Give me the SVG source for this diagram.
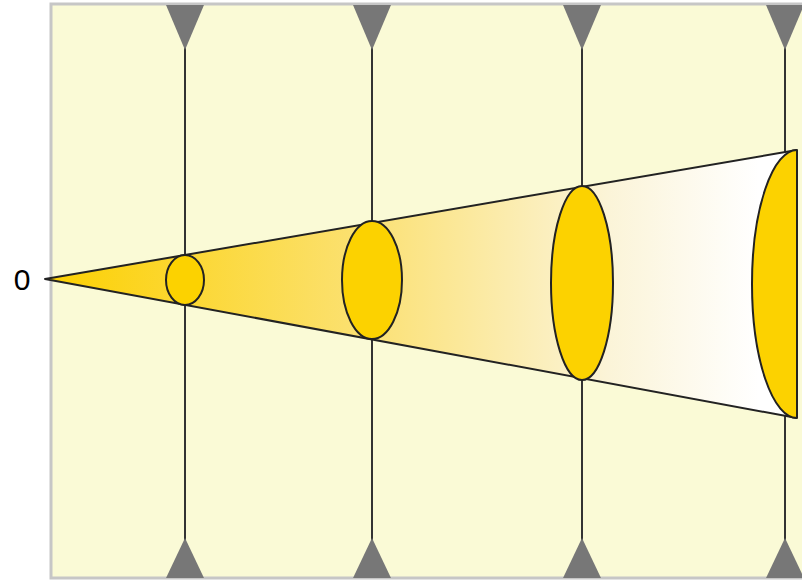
<svg xmlns="http://www.w3.org/2000/svg" width="802" height="582" viewBox="0 0 802 582">
<defs>
<linearGradient id="cone" gradientUnits="userSpaceOnUse" x1="45" y1="0" x2="797" y2="0">
<stop offset="0" stop-color="#fcd000"/>
<stop offset="0.45" stop-color="#fbe27a"/>
<stop offset="0.75" stop-color="#fbf4d8"/>
<stop offset="0.95" stop-color="#ffffff"/>
</linearGradient>
<clipPath id="endclip"><rect x="700" y="100" width="97" height="400"/></clipPath>
<style>
.bg{fill:#fafad6;stroke:#c6c6c6;stroke-width:3}
.vl{stroke:#333;stroke-width:2;fill:none}
.tri{fill:#777}
.ell{fill:#fcd200;stroke:#222;stroke-width:2}
.lbl{font-family:"Liberation Sans",Arial,sans-serif;font-size:30px;fill:#000}
</style>
</defs>
<rect class="bg" x="51" y="4" width="760" height="574"/>
<g id="connectors">
<line class="vl" x1="185" y1="40" x2="185" y2="550"/>
<line class="vl" x1="372" y1="40" x2="372" y2="550"/>
<line class="vl" x1="582" y1="40" x2="582" y2="550"/>
<line class="vl" x1="785" y1="40" x2="785" y2="550"/>
</g>
<g id="markers">
<polygon class="tri" points="166,5 204,5 185,50"/>
<polygon class="tri" points="353,5 391,5 372,50"/>
<polygon class="tri" points="563,5 601,5 582,50"/>
<polygon class="tri" points="766,5 804,5 785,50"/>
<polygon class="tri" points="166,578 204,578 185,538"/>
<polygon class="tri" points="353,578 391,578 372,538"/>
<polygon class="tri" points="563,578 601,578 582,538"/>
<polygon class="tri" points="766,578 804,578 785,538"/>
</g>
<g id="cone">
<polygon points="45,279 797,150 797,418" fill="url(#cone)" stroke="#222" stroke-width="2" stroke-linejoin="round"/>
</g>
<g id="section1"><ellipse class="ell" cx="185" cy="280" rx="19" ry="25"/></g>
<g id="section2"><ellipse class="ell" cx="372" cy="280" rx="30" ry="59"/></g>
<g id="section3"><ellipse class="ell" cx="582" cy="283" rx="31" ry="97"/></g>
<g id="section4"><ellipse class="ell" cx="797" cy="284" rx="45" ry="134" clip-path="url(#endclip)"/><line x1="797" y1="150" x2="797" y2="418" stroke="#222" stroke-width="2"/></g>
<g id="label0"><text class="lbl" x="22" y="290" text-anchor="middle">0</text></g>
</svg>
